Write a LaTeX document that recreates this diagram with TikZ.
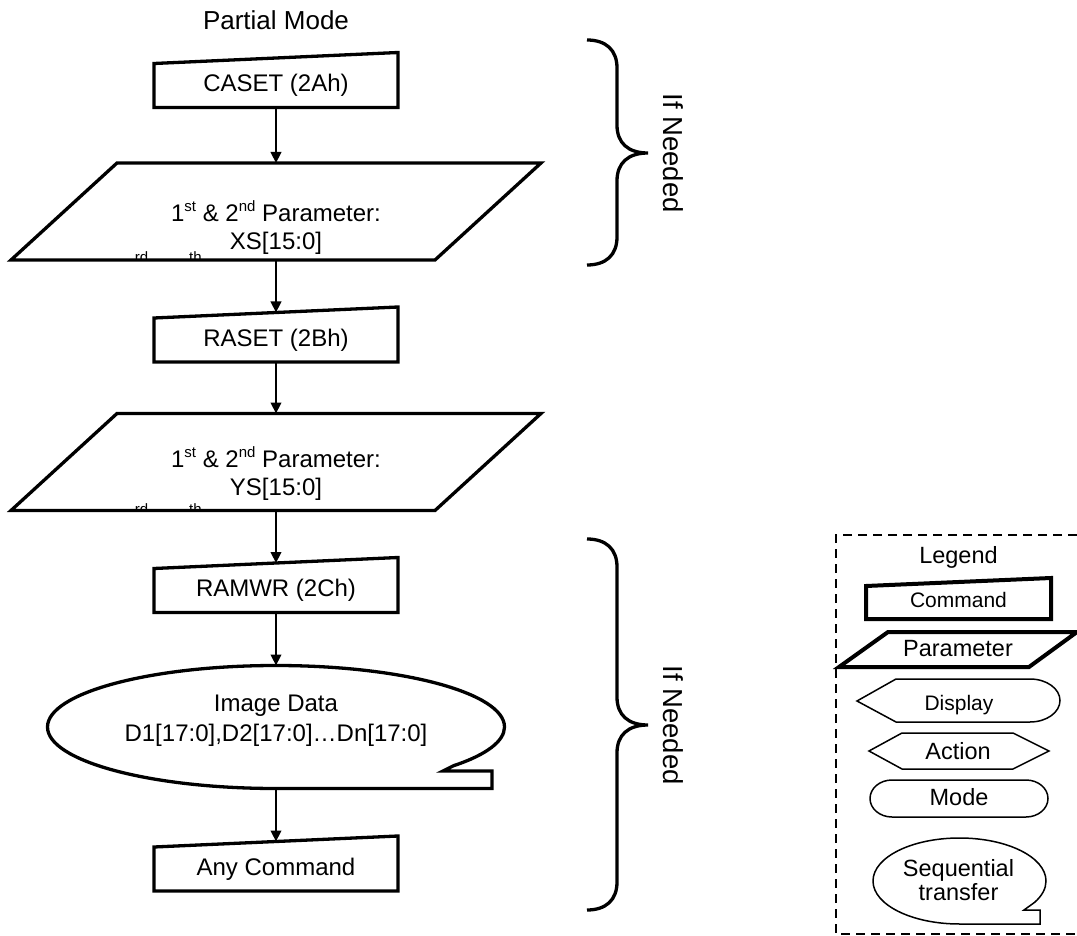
\documentclass[tikz,border=0pt]{standalone}
\usepackage{fontspec}
\setmainfont{Liberation Sans}
\usetikzlibrary{arrows.meta,calc}
\definecolor{INK}{HTML}{000000}
\newcommand\ordsup[1]{\raisebox{10.5pt}{\fontsize{15}{15}\selectfont #1}}

\begin{document}
\begin{tikzpicture}[x=1pt,y=-1pt]
\tikzset{box/.style={INK,line width=3.3pt,line join=miter},fat/.style={INK,line width=4pt,line join=miter},
 hair/.style={INK,line width=1.5pt},arr/.style={-{Triangle[length=11pt,width=10.5pt]},line width=2.4pt,INK},
 cmd/.style={inner sep=0pt,outer sep=0pt,minimum width=244pt,minimum height=44pt,font=\fontsize{24}{28}\selectfont},
 prm/.style={inner sep=0pt,outer sep=0pt,minimum width=424pt,minimum height=97pt},
 dat/.style={inner sep=0pt,outer sep=0pt,minimum width=457pt,minimum height=123pt},
 lbl/.style={inner sep=0pt,align=center,font=\fontsize{24}{28}\selectfont},
 frag/.style={inner sep=0pt,anchor=base,font=\fontsize{15}{15}\selectfont},
 side/.style={inner sep=0pt,rotate=-90,font=\fontsize{27.5}{30}\selectfont},
 ltxt/.style={inner sep=0pt,align=center,font=\fontsize{23.5}{24.5}\selectfont}}
\useasboundingbox (0,0) rectangle (1077,936);
\node[inner sep=0pt,font=\fontsize{26}{30}\selectfont] (mode) at (276,20) {Partial Mode};
\node[cmd] (caset) at (276,85.5) {CASET (2Ah)};
\node[prm] (xs) at (276,211.5) {};
\node[lbl] (xs-t) at ([yshift=-16pt]xs.center) {1\ordsup{st} \& 2\ordsup{nd} Parameter:\\XS[15:0]};
\node[cmd] (raset) at (276,340) {RASET (2Bh)};
\node[prm] (ys) at (276,462) {};
\node[lbl] (ys-t) at ([yshift=-11.5pt]ys.center) {1\ordsup{st} \& 2\ordsup{nd} Parameter:\\YS[15:0]};
\node[cmd] (ramwr) at (276,590.5) {RAMWR (2Ch)};
\node[dat] (data) at (276,727) {};
\node[lbl,font=\fontsize{24}{30}\selectfont] (data-t) at ([yshift=6.6pt]data.center) {Image Data\\D1[17:0],D2[17:0]…Dn[17:0]};
\node[cmd] (anycmd) at (276,869) {Any Command};
% cut-off line under the parameters
\begin{scope}
\clip (0,0) rectangle (1077,259.5);
\node[frag] (xs-rd) at (141.5,263) {rd};\node[frag] (xs-th) at (195.5,263) {th};
\end{scope}
\begin{scope}
\clip (0,300) rectangle (1077,510);
\node[frag] (ys-rd) at (141.5,514) {rd};\node[frag] (ys-th) at (195.5,514) {th};
\end{scope}
\foreach \n in {caset,raset,ramwr,anycmd}
 \draw[box] (\n.south west) -- (\n.south east) -- ([yshift=11pt]\n.north east) -- (\n.north west) -- cycle;
\foreach \n in {xs,ys}
 \draw[box] ([xshift=53pt]\n.north west) -- ([xshift=53pt]\n.north east) -- ([xshift=-53pt]\n.south east) -- ([xshift=-53pt]\n.south west) -- cycle;
\draw[box] (data.south) arc[start angle=-90,end angle=-399,x radius=228.5pt,y radius=61.5pt] -- (443,771) -- (492,771) -- (492,788.5) -- cycle;
\draw[arr] (caset.south) -- (xs.north);
\draw[arr] (xs.south) -- ([yshift=5.5pt]raset.north);
\draw[arr] (raset.south) -- (ys.north);
\draw[arr] (ys.south) -- ([yshift=5.5pt]ramwr.north);
\draw[arr] (ramwr.south) -- (data.north);
\draw[arr] (data.south) -- ([yshift=5.5pt]anycmd.north);
\foreach \yt/\ym/\yb [count=\i] in {40/153/265,539/725/910}{
 \draw[box] (587,\yt) .. controls (606,\yt) and (617,\yt+10) .. (617,\yt+28) -- (617,\ym-28)
  .. controls (617,\ym-10) and (628,\ym) .. (648,\ym) .. controls (628,\ym) and (617,\ym+10) .. (617,\ym+28)
  -- (617,\yb-28) .. controls (617,\yb-10) and (606,\yb) .. (587,\yb);
 \node[side] (need\i) at (673,\ym) {If Needed};}
% legend
\draw[hair,dash pattern=on 9pt off 6pt] (1077,535) -- (836,535) -- (836,934) -- (1077,934);
\node[ltxt] (lgd) at (958.5,557) {Legend};
\draw[fat] (866,619) -- (1051,619) -- (1051,578) -- (866,586) -- cycle;
\node[ltxt,font=\fontsize{21}{24}\selectfont] (lcmd) at (958.5,600) {Command};
\draw[fat] (888,632) -- (1077,632) -- (1029,667) -- (839,667) -- cycle;
\node[ltxt] (lprm) at (958,649) {Parameter};
\draw[hair] (857,701) -- (896,679) -- (1030,679) arc[start angle=90,end angle=-90,x radius=30pt,y radius=21.5pt] -- (896,722) -- cycle;
\node[ltxt,font=\fontsize{21}{24}\selectfont] (ldsp) at (959,705) {Display};
\draw[hair] (869,751) -- (902,733) -- (1013,733) -- (1049,751) -- (1013,769) -- (902,769) -- cycle;
\node[ltxt] (lact) at (958,751) {Action};
\draw[hair] (892,780) -- (1026,780) arc[start angle=90,end angle=-90,x radius=22pt,y radius=18.5pt] -- (892,817) arc[start angle=270,end angle=90,x radius=22pt,y radius=18.5pt] -- cycle;
\node[ltxt] (lmod) at (959,797.5) {Mode};
\draw[hair] (959.5,924) arc[start angle=-90,end angle=-390,x radius=86.5pt,y radius=43pt] -- (1024,910) -- (1040,910) -- (1040,924) -- cycle;
\node[ltxt] (lseq) at (958.5,880) {Sequential\\transfer};
\end{tikzpicture}
\end{document}
